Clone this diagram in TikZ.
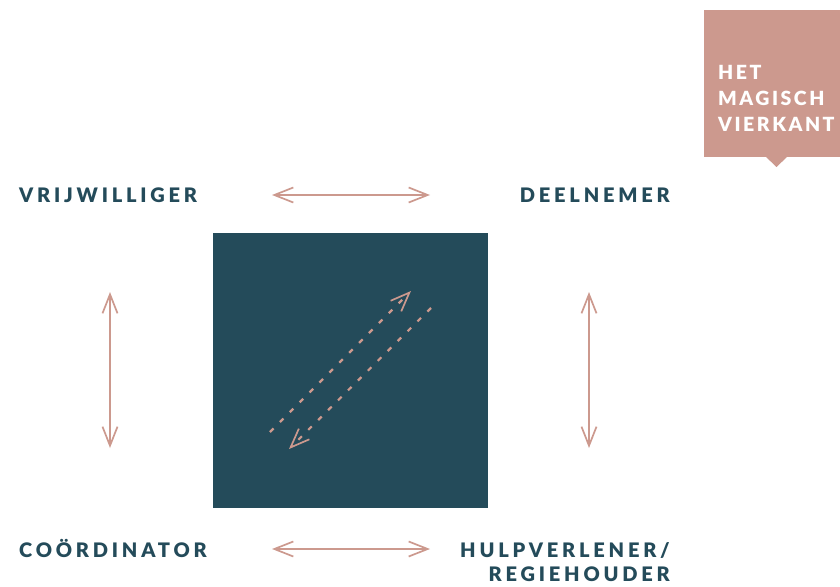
\documentclass[tikz,border=0pt]{standalone}
\usepackage{fontspec}
\setmainfont{Lato}
\newfontfamily\kantfont{Lato}[LetterSpace=19, BoldFont={Lato Black}]
\newfontfamily\titelfont{Lato}[LetterSpace=13, BoldFont={Lato Black}]
\usepackage{xcolor}
\usetikzlibrary{arrows.meta}
\usetikzlibrary{positioning}
\definecolor{kant}{HTML}{244B5A}
\definecolor{roze}{HTML}{CC998E}
\tikzset{
  rol/.style={font=\kantfont\bfseries\fontsize{20}{24}\selectfont, text=kant, inner sep=0pt},
  pijl/.style={draw=roze, line width=1.7pt, {Straight Barb[length=19pt,width=15pt]}-{Straight Barb[length=19pt,width=15pt]}},
  stip/.style={draw=roze, line width=2.2pt, dash pattern=on 5pt off 9pt, -{Straight Barb[length=19pt,width=15pt,line width=1.7pt]}}
}

\begin{document}
\begin{tikzpicture}[x=1pt,y=-1pt]
\useasboundingbox (0,0) rectangle (840,586);
% het vierkant
\node[fill=kant, minimum size=275pt, inner sep=0pt] (vlak) at (350.5,370.5) {};
% kaartje rechtsboven
\fill[roze] (704,10) rectangle (850,157);
\fill[roze] (765,156) -- (788,156) -- (776.5,167) -- cycle;
\node[rol, text=white, anchor=base west, align=left, font=\titelfont\bfseries\fontsize{19.5}{26}\selectfont] (titel) at (718,131) {HET\\MAGISCH\\VIERKANT};
% hoeken
\node[rol, anchor=base west] (vrij) at (19,202) {VRIJWILLIGER};
\node[rol, anchor=base east] (deel) at (670,202) {DEELNEMER};
\node[rol, anchor=base west] (coord) at (19,557) {CO\"ORDINATOR};
\node[rol, anchor=base east, align=right, font=\kantfont\bfseries\fontsize{20}{24}\selectfont] (hulp) at (670,581) {HULPVERLENER/\\REGIEHOUDER};
% pijlen
\coordinate (b1) at (272,195);
\coordinate (b2) at (430,195);
\coordinate (o1) at (272,549);
\coordinate (o2) at (430,549);
\coordinate (l1) at (110,292);
\coordinate (l2) at (110,448);
\coordinate (r1) at (589,292);
\coordinate (r2) at (589,448);
 \draw[pijl] (b1) -- (b2);
 \draw[pijl] (o1) -- (o2);
 \draw[pijl] (l1) -- (l2);
 \draw[pijl] (r1) -- (r2);
% diagonaal
\coordinate (d1) at (270,432);
\coordinate (d2) at (411,291);
\coordinate (d3) at (431,308);
\coordinate (d4) at (289,449);
 \draw[stip] (d1) -- (d2);
 \draw[stip] (d3) -- (d4);
\end{tikzpicture}
\end{document}
